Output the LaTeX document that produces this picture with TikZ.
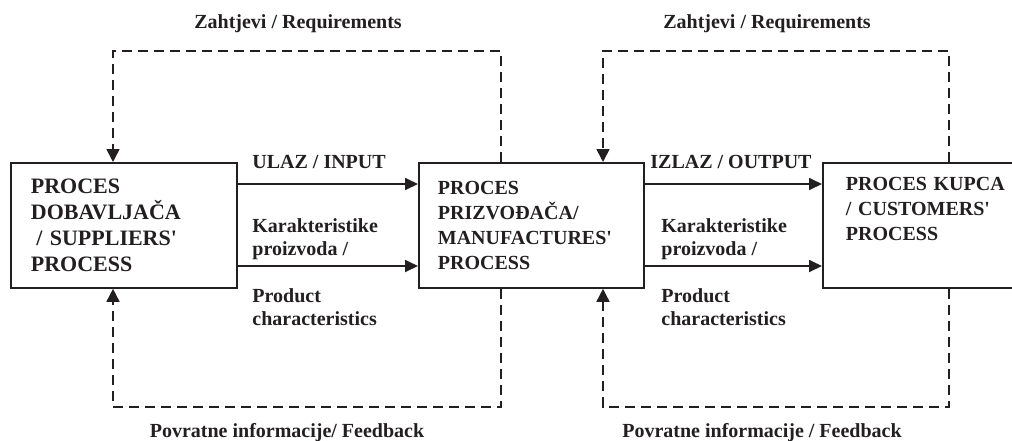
\documentclass[tikz,border=0pt]{standalone}
\usepackage{fontspec}
\setmainfont{Liberation Serif}
\usetikzlibrary{arrows.meta,positioning,calc}
\definecolor{ink}{RGB}{35,31,32}

\begin{document}
\begin{tikzpicture}[x=0.5pt, y=-0.5pt,
  every node/.style={text=ink, font=\bfseries\fontsize{10}{12.5}\selectfont},
  procbox/.style={draw=ink, line width=0.9pt, anchor=north west, minimum height=62.5pt, inner ysep=0pt, align=left},
  flow/.style={draw=ink, line width=0.9pt, -{Triangle[length=6.5pt,width=6pt]}},
  fbline/.style={draw=ink, line width=0.8pt, dash pattern=on 5pt off 3pt, -{Triangle[length=6.5pt,width=6.5pt]}},
  lbl/.style={inner sep=0pt, align=left, font=\bfseries\fontsize{10}{11.75}\selectfont}]
  % Define dimensions
  \def\ytop{51}
  \def\ybot{407}
  \useasboundingbox (0,0) rectangle (1012,440);

  % Draw boxes
  \node[procbox, inner xsep=10pt, text width=93pt, font=\bfseries\fontsize{11}{13}\selectfont] (sup) at (10,162)
      {PROCES\\DOBAVLJAČA\\\hspace*{0.25em}/ SUPPLIERS\textquotesingle\\PROCESS};
  \node[procbox, inner xsep=9.5pt, text width=93.5pt] (man) at (418,162)
      {PROCES\\PRIZVOĐAČA/\\MANUFACTURES\textquotesingle\\PROCESS};
  \node[procbox, inner xsep=11.5pt, text width=85pt] (cus) at (822,162)
      {PROCES KUPCA\\/ CUSTOMERS\textquotesingle\\PROCESS\\[4pt]~};

  % Define points
  \coordinate (inY) at (0,184);
  \coordinate (chY) at (0,266);

  % Input and output arrows
  \draw[flow] (sup.east |- inY) -- (man.west |- inY);
  \draw[flow] (sup.east |- chY) -- (man.west |- chY);
  \draw[flow] (man.east |- inY) -- (cus.west |- inY);
  \draw[flow] (man.east |- chY) -- (cus.west |- chY);

  % Label arrows
  \node[lbl, anchor=base west] (ulaz) at (252,168) {ULAZ / INPUT};
  \node[lbl, anchor=north west] (karA) at (252,218) {Karakteristike\\proizvoda /};
  \node[lbl, anchor=north west] (prodA) at (252,288) {Product\\characteristics};
  \node[lbl, anchor=base west] (izlaz) at (650,168) {IZLAZ / OUTPUT};
  \node[lbl, anchor=north west] (karB) at (661,218) {Karakteristike\\proizvoda /};
  \node[lbl, anchor=north west] (prodB) at (661,288) {Product\\characteristics};

  % Requirements and feedback loops
  \foreach \src/\dst/\xl/\xr in {man/sup/113/501, cus/man/603/949} {
      \coordinate (tl) at (\xl,\ytop);
      \coordinate (tr) at (\xr,\ytop);
      \coordinate (bl) at (\xl,\ybot);
      \coordinate (br) at (\xr,\ybot);
      \draw[fbline] (\src.north -| tr) -- (tr) -- (tl) -- (\dst.north -| tl);
      \draw[fbline] (\src.south -| br) -- (br) -- (bl) -- (\dst.south -| bl);
  }
  \node[lbl, anchor=base] (reqA) at (298,28) {Zahtjevi / Requirements};
  \node[lbl, anchor=base] (reqB) at (767,28) {Zahtjevi / Requirements};
  \node[lbl, anchor=base] (fbA) at (287,437) {Povratne informacije/ Feedback};
  \node[lbl, anchor=base] (fbB) at (762,437) {Povratne informacije / Feedback};

\end{tikzpicture}
\end{document}
